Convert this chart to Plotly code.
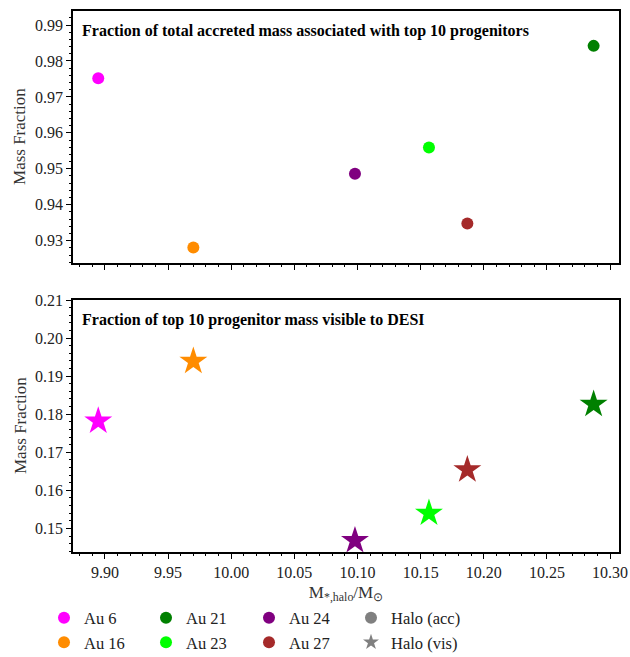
import plotly.graph_objects as go
from plotly.subplots import make_subplots

halos = ["Au 6", "Au 16", "Au 21", "Au 23", "Au 24", "Au 27"]
colors = ["#ff00ff", "#ff8c00", "#008000", "#00ff00", "#800080", "#a52a2a"]
mstar_halo = [9.8947, 9.9700, 10.2870, 10.1566, 10.0980, 10.1870]
frac_acc_top10 = [0.9752, 0.9281, 0.9842, 0.9559, 0.9486, 0.9348]
frac_vis_top10 = [0.1782, 0.1939, 0.1826, 0.1540, 0.1468, 0.1654]

x_ticks = [9.90, 9.95, 10.00, 10.05, 10.10, 10.15, 10.20, 10.25, 10.30]
y_top_ticks = [0.93, 0.94, 0.95, 0.96, 0.97, 0.98, 0.99]
y_bot_ticks = [0.15, 0.16, 0.17, 0.18, 0.19, 0.20, 0.21]

FONT = "Liberation Serif"

fig = make_subplots(rows=2, cols=1, shared_xaxes=False, vertical_spacing=0.0685)

legend_ids = ["legend", "legend", "legend2", "legend2", "legend3", "legend3"]
for k in range(len(halos)):
    fig.add_trace(go.Scatter(x=[mstar_halo[k]], y=[frac_acc_top10[k]], mode="markers",
                             name=halos[k], legend=legend_ids[k],
                             marker=dict(symbol="circle", color=colors[k], size=12)),
                  row=1, col=1)
fig.add_trace(go.Scatter(x=[None], y=[None], mode="markers", name="Halo (acc)", legend="legend4",
                         marker=dict(symbol="circle", color="#808080", size=11)), row=1, col=1)
fig.add_trace(go.Scatter(x=[None], y=[None], mode="markers", name="Halo (vis)", legend="legend4",
                         marker=dict(symbol="star", color="#808080", size=11)), row=1, col=1)

for k in range(len(halos)):
    fig.add_trace(go.Scatter(x=[mstar_halo[k]], y=[frac_vis_top10[k]], mode="markers",
                             name=halos[k], showlegend=False,
                             marker=dict(symbol="star", color=colors[k], size=21)),
                  row=2, col=1)

axis_common = dict(
    showline=True, linecolor="black", linewidth=1.6, mirror=True,
    ticks="outside", ticklen=5, tickwidth=1.2, tickcolor="black",
    showgrid=False, zeroline=False, automargin=False,
    tickfont=dict(family=FONT, size=16, color="#222"),
)

fig.update_xaxes(range=[9.8747, 10.3071], tickvals=x_ticks, tickformat=".2f",
                 minor=dict(ticks="outside", ticklen=2.5, tickwidth=1, tickcolor="black", dtick=0.01, tick0=9.90),
                 **axis_common)
fig.update_xaxes(showticklabels=False, row=1, col=1)
fig.update_xaxes(title=dict(text="M<sub>*,halo</sub>/M<sub>⊙</sub>",
                            font=dict(family=FONT, size=17, color="#333"), standoff=6),
                 row=2, col=1)

fig.update_yaxes(range=[0.9238, 0.9939], tickvals=y_top_ticks, tickformat=".2f",
                 minor=dict(ticks="outside", ticklen=2.5, tickwidth=1, tickcolor="black", dtick=0.002, tick0=0.93),
                 row=1, col=1, **axis_common)
fig.update_yaxes(range=[0.1438, 0.2100], tickvals=y_bot_ticks, tickformat=".2f",
                 minor=dict(ticks="outside", ticklen=2.5, tickwidth=1, tickcolor="black", dtick=0.002, tick0=0.15),
                 row=2, col=1, **axis_common)

for yref in ["y domain", "y2 domain"]:
    fig.add_annotation(text="Mass Fraction", xref="paper", yref=yref, x=-53 / 546, y=0.5,
                       xanchor="center", yanchor="middle", textangle=-90, showarrow=False,
                       font=dict(family=FONT, size=17, color="#333"))

fig.add_annotation(text="<b>Fraction of total accreted mass associated with top 10 progenitors</b>",
                   xref="x domain", yref="y domain", x=0.012, y=0.92, xanchor="left", yanchor="middle",
                   showarrow=False, font=dict(family=FONT, size=16, color="black"))
fig.add_annotation(text="<b>Fraction of top 10 progenitor mass visible to DESI</b>",
                   xref="x2 domain", yref="y2 domain", x=0.012, y=0.92, xanchor="left", yanchor="middle",
                   showarrow=False, font=dict(family=FONT, size=16, color="black"))

def leg(xpix):
    return dict(orientation="v", x=xpix / 630, xanchor="left", xref="container",
                y=0.086, yanchor="top", yref="container", itemsizing="constant",
                font=dict(family=FONT, size=16.5, color="#222"), tracegroupgap=0,
                bgcolor="rgba(0,0,0,0)")

fig.update_layout(
    width=630, height=657,
    margin=dict(l=73, r=11, t=11, b=105, autoexpand=False),
    plot_bgcolor="white", paper_bgcolor="white",
    legend=leg(44), legend2=leg(146), legend3=leg(249), legend4=leg(351),
)

fig.write_html("out.html")
